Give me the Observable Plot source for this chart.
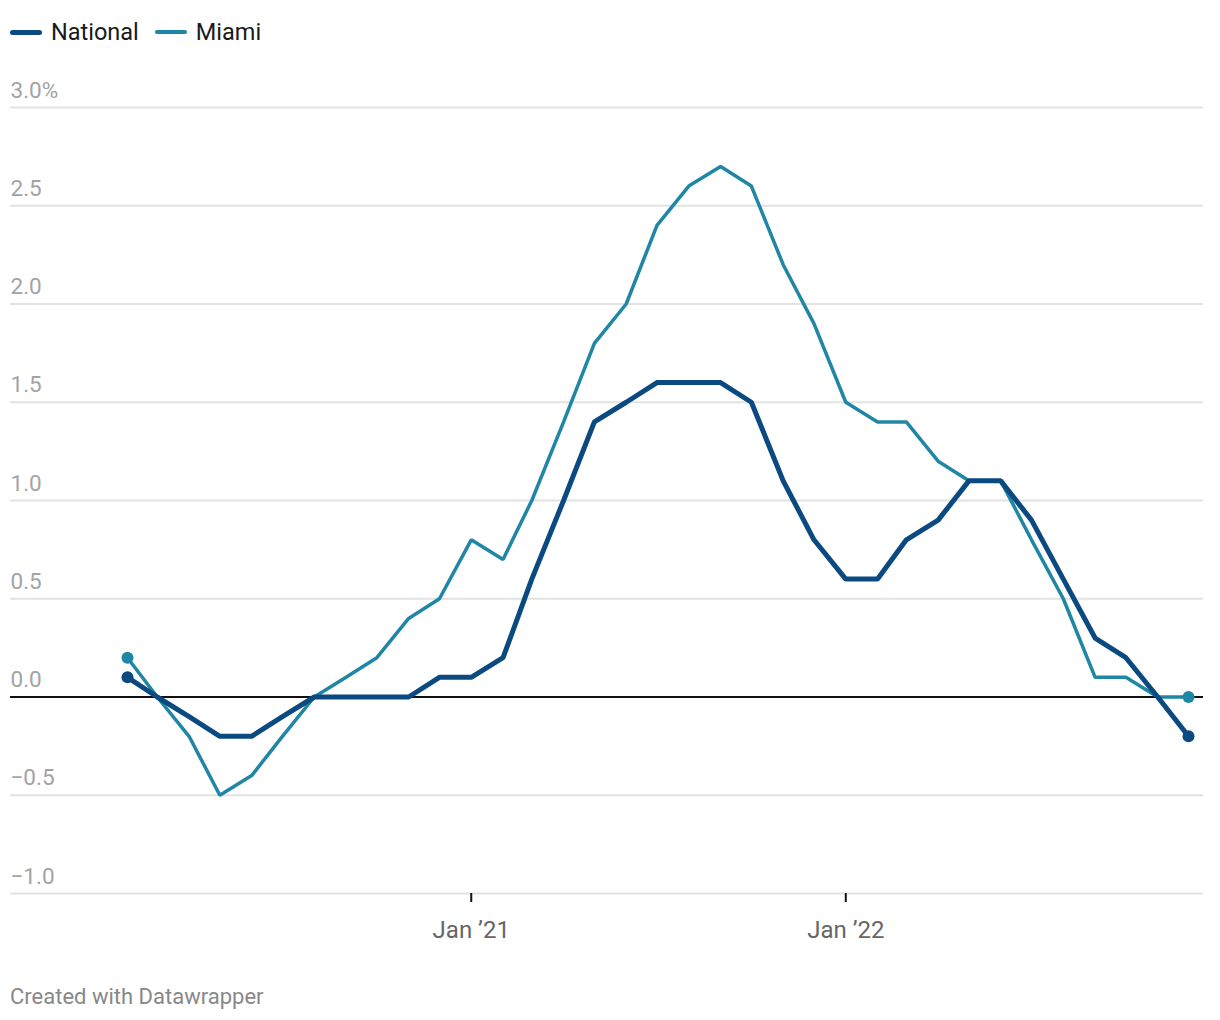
<!DOCTYPE html>
<html>
<head>
<meta charset="utf-8">
<script src="https://cdn.jsdelivr.net/npm/d3@7"></script>
<script src="https://cdn.jsdelivr.net/npm/@observablehq/plot@0.6"></script>
<style>
  html, body { margin: 0; padding: 0; background: #fff; }
  body { font-family: Roboto, "Noto Sans", sans-serif; width: 1220px; }
  #legend { height: 60px; box-sizing: border-box; padding: 4px 0 0 10px; display: flex; align-items: center; }
  .item { display: flex; align-items: center; margin-right: 16px; font-size: 23.5px; color: #1a1a1a; height: 28px; }
  .sw { width: 32px; border-radius: 3px; margin-right: 9px; }
  #caption { margin-top: 25px; padding-left: 10px; font-size: 22px; color: #888; line-height: 24px; }
  #chart svg { display: block; }
</style>
</head>
<body>
<div id="legend"></div>
<div id="chart"></div>
<div id="caption">Created with Datawrapper</div>
<script>
// ---- data ----
const months = ["2020-02","2020-03","2020-04","2020-05","2020-06","2020-07","2020-08","2020-09","2020-10","2020-11","2020-12",
  "2021-01","2021-02","2021-03","2021-04","2021-05","2021-06","2021-07","2021-08","2021-09","2021-10","2021-11","2021-12",
  "2022-01","2022-02","2022-03","2022-04","2022-05","2022-06","2022-07","2022-08","2022-09","2022-10","2022-11","2022-12"];
const national = [0.1, 0.0, -0.1, -0.2, -0.2, -0.1, 0.0, 0.0, 0.0, 0.0, 0.1,
  0.1, 0.2, 0.6, 1.0, 1.4, 1.5, 1.6, 1.6, 1.6, 1.5, 1.1, 0.8,
  0.6, 0.6, 0.8, 0.9, 1.1, 1.1, 0.9, 0.6, 0.3, 0.2, 0.0, -0.2];
const miami = [0.2, 0.0, -0.2, -0.5, -0.4, -0.2, 0.0, 0.1, 0.2, 0.4, 0.5,
  0.8, 0.7, 1.0, 1.4, 1.8, 2.0, 2.4, 2.6, 2.7, 2.6, 2.2, 1.9,
  1.5, 1.4, 1.4, 1.2, 1.1, 1.1, 0.8, 0.5, 0.1, 0.1, 0.0, 0.0];
const seriesNames = ["National", "Miami"];
const seriesColors = ["#0a4a80", "#1f86a5"];
const yTicks = [-1, -0.5, 0, 0.5, 1, 1.5, 2, 2.5, 3];
const yTickLabels = ["\u22121.0", "\u22120.5", "0.0", "0.5", "1.0", "1.5", "2.0", "2.5", "3.0%"];
const xTicks = ["2021-01", "2022-01"];
const xTickLabels = ["Jan \u201921", "Jan \u201922"];

// ---- build ----
const parse = d3.utcParse("%Y-%m");
const dates = months.map(parse);
const xTickDates = xTicks.map(parse);
const rows = [];
[national, miami].forEach((vals, s) => {
  vals.forEach((v, i) => rows.push({date: dates[i], value: v, series: seriesNames[s]}));
});
const nat = rows.filter(d => d.series === "National");
const mia = rows.filter(d => d.series === "Miami");
const ends = arr => [arr[0], arr[arr.length - 1]];
const tickRows = yTicks.map((t, i) => ({t, label: yTickLabels[i]}));

// legend
const legend = document.getElementById("legend");
seriesNames.forEach((name, i) => {
  const it = document.createElement("div");
  it.className = "item";
  const sw = document.createElement("div");
  sw.className = "sw";
  sw.style.background = seriesColors[i];
  sw.style.height = i === 0 ? "5px" : "3.5px";
  const tx = document.createElement("span");
  tx.textContent = name;
  it.appendChild(sw); it.appendChild(tx);
  legend.appendChild(it);
});

const chart = Plot.plot({
  width: 1220,
  height: 900,
  marginLeft: 127,
  marginRight: 32,
  marginTop: 47,
  marginBottom: 67,
  style: {fontFamily: "Roboto, 'Noto Sans', sans-serif", background: "#fff", overflow: "visible"},
  x: {type: "utc", domain: [dates[0], dates[dates.length - 1]], axis: null},
  y: {domain: [-1, 3], axis: null},
  marks: [
    Plot.ruleY(yTicks.filter(t => t !== 0), {stroke: "#e2e2e2", strokeWidth: 2, insetLeft: -117, insetRight: -15}),
    Plot.text(tickRows, {y: "t", text: "label", frameAnchor: "left", dx: -117, dy: -17, textAnchor: "start", lineAnchor: "middle", fill: "#a3a3a3", fontSize: 22.5}),
    Plot.axisX(xTickDates, {tickSize: 9, tickPadding: 18, stroke: "#111", strokeWidth: 2, fill: "#666", fontSize: 24,
      tickFormat: d => xTickLabels[xTickDates.findIndex(t => +t === +d)]}),
    Plot.ruleY([0], {stroke: "#111", strokeWidth: 2, insetLeft: -117, insetRight: -15}),
    Plot.line(mia, {x: "date", y: "value", stroke: seriesColors[1], strokeWidth: 3.5, strokeLinejoin: "miter"}),
    Plot.dot(ends(mia), {x: "date", y: "value", fill: seriesColors[1], r: 6}),
    Plot.line(nat, {x: "date", y: "value", stroke: seriesColors[0], strokeWidth: 5, strokeLinejoin: "miter"}),
    Plot.dot(ends(nat), {x: "date", y: "value", fill: seriesColors[0], r: 6})
  ]
});
document.getElementById("chart").appendChild(chart);
</script>
</body>
</html>
